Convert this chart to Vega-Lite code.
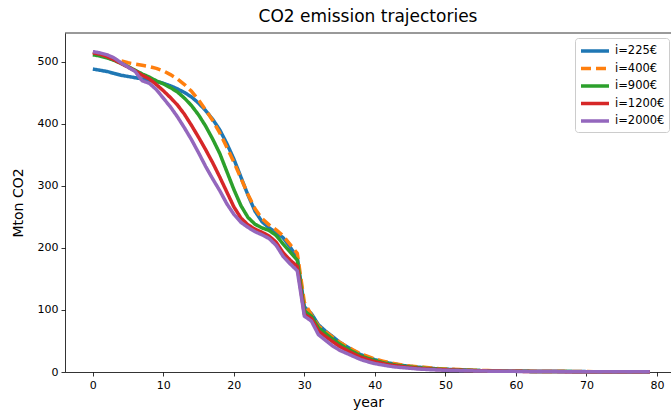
{
  "$schema": "https://vega.github.io/schema/vega-lite/v6.json",
  "width": 606,
  "height": 339,
  "autosize": {"type": "none"},
  "padding": {"left": 65, "top": 33, "right": 0, "bottom": 42},
  "title": {"text": "CO2 emission trajectories", "font": "DejaVu Sans", "fontSize": 17, "fontWeight": "normal", "color": "#000000", "offset": 7, "anchor": "middle"},
  "config": {
    "view": {"stroke": null},
    "font": "DejaVu Sans"
  },
  "datasets": {
    "traj": [
      {"year":0,"i=225€":488,"i=400€":515,"i=900€":511,"i=1200€":514,"i=2000€":516},
      {"year":1,"i=225€":486,"i=400€":512,"i=900€":509,"i=1200€":512,"i=2000€":514},
      {"year":2,"i=225€":484,"i=400€":508,"i=900€":506,"i=1200€":508,"i=2000€":511},
      {"year":3,"i=225€":481,"i=400€":504,"i=900€":502,"i=1200€":503,"i=2000€":506},
      {"year":4,"i=225€":478,"i=400€":501,"i=900€":497,"i=1200€":497,"i=2000€":498},
      {"year":5,"i=225€":476,"i=400€":498,"i=900€":492,"i=1200€":491,"i=2000€":491},
      {"year":6,"i=225€":474,"i=400€":496,"i=900€":486,"i=1200€":485,"i=2000€":484},
      {"year":7,"i=225€":472,"i=400€":494,"i=900€":480,"i=1200€":478,"i=2000€":469},
      {"year":8,"i=225€":470,"i=400€":492,"i=900€":475,"i=1200€":472,"i=2000€":465},
      {"year":9,"i=225€":468,"i=400€":489,"i=900€":469,"i=1200€":463,"i=2000€":455},
      {"year":10,"i=225€":465,"i=400€":485,"i=900€":464,"i=1200€":453,"i=2000€":441},
      {"year":11,"i=225€":461,"i=400€":479,"i=900€":458,"i=1200€":442,"i=2000€":427},
      {"year":12,"i=225€":456,"i=400€":472,"i=900€":451,"i=1200€":430,"i=2000€":411},
      {"year":13,"i=225€":450,"i=400€":463,"i=900€":441,"i=1200€":415,"i=2000€":393},
      {"year":14,"i=225€":443,"i=400€":452,"i=900€":429,"i=1200€":397,"i=2000€":374},
      {"year":15,"i=225€":433,"i=400€":438,"i=900€":414,"i=1200€":378,"i=2000€":353},
      {"year":16,"i=225€":421,"i=400€":422,"i=900€":396,"i=1200€":358,"i=2000€":331},
      {"year":17,"i=225€":407,"i=400€":405,"i=900€":375,"i=1200€":337,"i=2000€":311},
      {"year":18,"i=225€":390,"i=400€":385,"i=900€":352,"i=1200€":314,"i=2000€":292},
      {"year":19,"i=225€":368,"i=400€":362,"i=900€":323,"i=1200€":290,"i=2000€":271},
      {"year":20,"i=225€":343,"i=400€":338,"i=900€":294,"i=1200€":266,"i=2000€":254},
      {"year":21,"i=225€":314,"i=400€":312,"i=900€":268,"i=1200€":248,"i=2000€":241},
      {"year":22,"i=225€":285,"i=400€":286,"i=900€":249,"i=1200€":237,"i=2000€":233},
      {"year":23,"i=225€":259,"i=400€":263,"i=900€":238,"i=1200€":230,"i=2000€":226},
      {"year":24,"i=225€":242,"i=400€":247,"i=900€":232,"i=1200€":225,"i=2000€":221},
      {"year":25,"i=225€":232,"i=400€":237,"i=900€":228,"i=1200€":219,"i=2000€":215},
      {"year":26,"i=225€":225,"i=400€":229,"i=900€":220,"i=1200€":209,"i=2000€":204},
      {"year":27,"i=225€":216,"i=400€":219,"i=900€":206,"i=1200€":192,"i=2000€":186},
      {"year":28,"i=225€":201,"i=400€":205,"i=900€":193,"i=1200€":180,"i=2000€":174},
      {"year":29,"i=225€":184,"i=400€":191,"i=900€":180,"i=1200€":170,"i=2000€":163},
      {"year":30,"i=225€":105,"i=400€":112,"i=900€":98,"i=1200€":93,"i=2000€":90},
      {"year":31,"i=225€":94,"i=400€":92,"i=900€":90,"i=1200€":86,"i=2000€":82},
      {"year":32,"i=225€":76,"i=400€":74,"i=900€":71,"i=1200€":66,"i=2000€":60},
      {"year":33,"i=225€":66,"i=400€":65,"i=900€":62,"i=1200€":57,"i=2000€":51},
      {"year":34,"i=225€":57,"i=400€":56,"i=900€":53,"i=1200€":49,"i=2000€":42},
      {"year":35,"i=225€":48,"i=400€":48,"i=900€":45,"i=1200€":41,"i=2000€":35},
      {"year":36,"i=225€":41,"i=400€":41,"i=900€":38,"i=1200€":35,"i=2000€":30},
      {"year":37,"i=225€":34,"i=400€":35,"i=900€":32,"i=1200€":29,"i=2000€":25},
      {"year":38,"i=225€":28,"i=400€":29,"i=900€":26,"i=1200€":24,"i=2000€":20},
      {"year":39,"i=225€":24,"i=400€":25,"i=900€":22,"i=1200€":20,"i=2000€":16.5},
      {"year":40,"i=225€":20,"i=400€":21,"i=900€":18.5,"i=1200€":16.5,"i=2000€":13.5},
      {"year":41,"i=225€":17,"i=400€":18,"i=900€":15.5,"i=1200€":14,"i=2000€":11.5},
      {"year":42,"i=225€":14.5,"i=400€":15,"i=900€":13,"i=1200€":11.5,"i=2000€":9.5},
      {"year":43,"i=225€":12.5,"i=400€":13,"i=900€":11,"i=1200€":10,"i=2000€":8},
      {"year":44,"i=225€":10.5,"i=400€":11,"i=900€":9.5,"i=1200€":8.5,"i=2000€":7},
      {"year":45,"i=225€":9,"i=400€":9.5,"i=900€":8,"i=1200€":7,"i=2000€":6},
      {"year":46,"i=225€":8,"i=400€":8.5,"i=900€":7,"i=1200€":6,"i=2000€":5},
      {"year":47,"i=225€":7,"i=400€":7.5,"i=900€":6,"i=1200€":5.2,"i=2000€":4.3},
      {"year":48,"i=225€":6,"i=400€":6.5,"i=900€":5.2,"i=1200€":4.5,"i=2000€":3.7},
      {"year":49,"i=225€":5,"i=400€":5.5,"i=900€":4.5,"i=1200€":4,"i=2000€":3.2},
      {"year":50,"i=225€":4.5,"i=400€":5,"i=900€":4,"i=1200€":3.5,"i=2000€":2.8},
      {"year":51,"i=225€":4,"i=400€":4.4,"i=900€":3.6,"i=1200€":3.1,"i=2000€":2.5},
      {"year":52,"i=225€":3.5,"i=400€":3.9,"i=900€":3.2,"i=1200€":2.8,"i=2000€":2.2},
      {"year":53,"i=225€":3,"i=400€":3.4,"i=900€":2.8,"i=1200€":2.5,"i=2000€":2},
      {"year":54,"i=225€":2.6,"i=400€":3,"i=900€":2.5,"i=1200€":2.2,"i=2000€":1.8},
      {"year":55,"i=225€":2.2,"i=400€":2.6,"i=900€":2.2,"i=1200€":2,"i=2000€":1.6},
      {"year":56,"i=225€":2,"i=400€":2.3,"i=900€":2,"i=1200€":1.8,"i=2000€":1.4},
      {"year":57,"i=225€":1.8,"i=400€":2,"i=900€":1.8,"i=1200€":1.6,"i=2000€":1.3},
      {"year":58,"i=225€":1.6,"i=400€":1.8,"i=900€":1.6,"i=1200€":1.4,"i=2000€":1.2},
      {"year":59,"i=225€":1.4,"i=400€":1.6,"i=900€":1.4,"i=1200€":1.3,"i=2000€":1.1},
      {"year":60,"i=225€":1.2,"i=400€":1.4,"i=900€":1.2,"i=1200€":1.1,"i=2000€":1},
      {"year":61,"i=225€":1.1,"i=400€":1.2,"i=900€":1.1,"i=1200€":1,"i=2000€":0.9},
      {"year":62,"i=225€":1,"i=400€":1.1,"i=900€":1,"i=1200€":0.9,"i=2000€":0.8},
      {"year":63,"i=225€":0.9,"i=400€":1,"i=900€":0.9,"i=1200€":0.8,"i=2000€":0.8},
      {"year":64,"i=225€":0.9,"i=400€":0.9,"i=900€":0.8,"i=1200€":0.8,"i=2000€":0.7},
      {"year":65,"i=225€":0.8,"i=400€":0.9,"i=900€":0.8,"i=1200€":0.7,"i=2000€":0.7},
      {"year":66,"i=225€":0.8,"i=400€":0.8,"i=900€":0.7,"i=1200€":0.7,"i=2000€":0.6},
      {"year":67,"i=225€":0.7,"i=400€":0.8,"i=900€":0.7,"i=1200€":0.6,"i=2000€":0.6},
      {"year":68,"i=225€":0.7,"i=400€":0.7,"i=900€":0.6,"i=1200€":0.6,"i=2000€":0.6},
      {"year":69,"i=225€":0.7,"i=400€":0.7,"i=900€":0.6,"i=1200€":0.6,"i=2000€":0.5},
      {"year":70,"i=225€":0.6,"i=400€":0.7,"i=900€":0.6,"i=1200€":0.5,"i=2000€":0.5},
      {"year":71,"i=225€":0.6,"i=400€":0.6,"i=900€":0.6,"i=1200€":0.5,"i=2000€":0.5},
      {"year":72,"i=225€":0.6,"i=400€":0.6,"i=900€":0.5,"i=1200€":0.5,"i=2000€":0.5},
      {"year":73,"i=225€":0.6,"i=400€":0.6,"i=900€":0.5,"i=1200€":0.5,"i=2000€":0.4},
      {"year":74,"i=225€":0.5,"i=400€":0.6,"i=900€":0.5,"i=1200€":0.5,"i=2000€":0.4},
      {"year":75,"i=225€":0.5,"i=400€":0.5,"i=900€":0.5,"i=1200€":0.4,"i=2000€":0.4},
      {"year":76,"i=225€":0.5,"i=400€":0.5,"i=900€":0.5,"i=1200€":0.4,"i=2000€":0.4},
      {"year":77,"i=225€":0.5,"i=400€":0.5,"i=900€":0.4,"i=1200€":0.4,"i=2000€":0.4},
      {"year":78,"i=225€":0.5,"i=400€":0.5,"i=900€":0.4,"i=1200€":0.4,"i=2000€":0.4},
      {"year":79,"i=225€":0.5,"i=400€":0.5,"i=900€":0.4,"i=1200€":0.4,"i=2000€":0.4}
    ]
  },
  "layer": [
    {
      "mark": {"type": "rule", "color": "#000000", "strokeWidth": 0.8},
      "encoding": {"y": {"datum": 546, "type": "quantitative"}},
      "data": {"values": [{}]}
    },
    {
      "data": {"name": "traj"},
      "transform": [
        {"fold": ["i=225€", "i=400€", "i=900€", "i=1200€", "i=2000€"], "as": ["series", "v"]}
      ],
      "mark": {"type": "line", "strokeWidth": 3.5, "strokeCap": "butt", "strokeJoin": "round"},
      "encoding": {
        "x": {
          "field": "year", "type": "quantitative",
          "scale": {"domain": [-3.95, 82], "nice": false, "zero": false},
          "axis": {
            "title": "year", "values": [0,10,20,30,40,50,60,70,80], "grid": false,
            "domainColor": "#000000", "domainWidth": 0.8, "tickColor": "#000000", "tickSize": 4, "tickWidth": 0.8,
            "labelFont": "DejaVu Sans", "labelFontSize": 11, "labelColor": "#000000", "labelPadding": 3,
            "titleFont": "DejaVu Sans", "titleFontSize": 14, "titleFontWeight": "normal", "titleColor": "#000000", "titlePadding": 5
          }
        },
        "y": {
          "field": "v", "type": "quantitative",
          "scale": {"domain": [0, 546], "nice": false},
          "axis": {
            "title": "Mton CO2", "values": [0,100,200,300,400,500], "grid": false,
            "domainColor": "#000000", "domainWidth": 0.8, "tickColor": "#000000", "tickSize": 4, "tickWidth": 0.8,
            "labelFont": "DejaVu Sans", "labelFontSize": 11, "labelColor": "#000000", "labelPadding": 3,
            "titleFont": "DejaVu Sans", "titleFontSize": 14, "titleFontWeight": "normal", "titleColor": "#000000", "titlePadding": 12
          }
        },
        "color": {
          "field": "series", "type": "nominal",
          "scale": {"domain": ["i=225€", "i=400€", "i=900€", "i=1200€", "i=2000€"], "range": ["#1f77b4", "#ff7f0e", "#2ca02c", "#d62728", "#9467bd"]},
          "legend": {
            "title": null, "orient": "none", "legendX": 510, "legendY": 5,
            "symbolType": "M-1,0H3", "symbolSize": 196, "symbolStrokeWidth": 3.5,
            "labelFont": "DejaVu Sans", "labelFontSize": 11.5, "labelColor": "#000000", "labelOffset": 18,
            "rowPadding": 1.5, "padding": 4, "strokeColor": "#cccccc", "fillColor": "rgba(255,255,255,0.8)", "cornerRadius": 3
          }
        },
        "strokeDash": {
          "field": "series", "type": "nominal",
          "scale": {"domain": ["i=225€", "i=400€", "i=900€", "i=1200€", "i=2000€"], "range": [[1,0],[10,5],[1,0],[1,0],[1,0]]}
        }
      }
    }
  ]
}
